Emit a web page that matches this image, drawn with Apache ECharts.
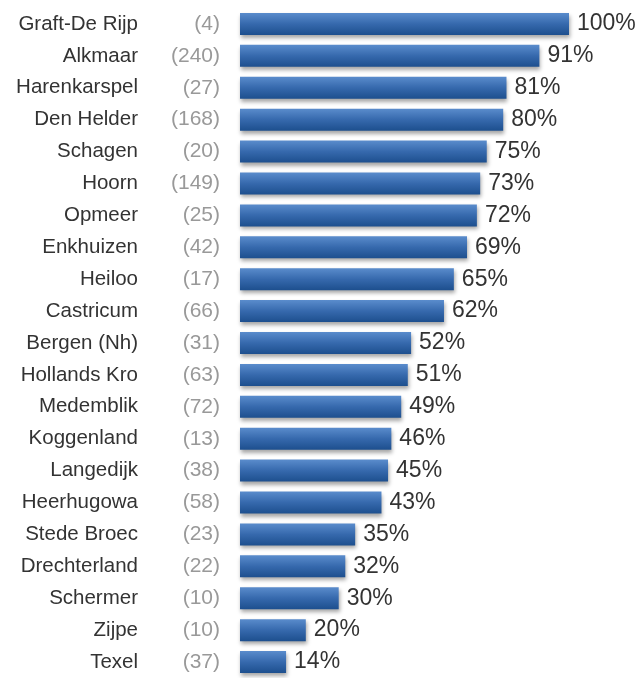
<!DOCTYPE html>
<html>
<head>
<meta charset="utf-8">
<script src="https://cdn.jsdelivr.net/npm/echarts@6/dist/echarts.min.js"></script>
<style>
  html, body { margin: 0; padding: 0; background: #fff; }
  #chart { width: 642px; height: 678px; }
</style>
</head>
<body>
<div id="chart"></div>
<script>
// gemeenten, aantal respondenten en percentage
const gemeenten = ['Graft-De Rijp', 'Alkmaar', 'Harenkarspel', 'Den Helder', 'Schagen', 'Hoorn', 'Opmeer',
  'Enkhuizen', 'Heiloo', 'Castricum', 'Bergen (Nh)', 'Hollands Kro', 'Medemblik', 'Koggenland',
  'Langedijk', 'Heerhugowa', 'Stede Broec', 'Drechterland', 'Schermer', 'Zijpe', 'Texel']
const aantallen = [4, 240, 27, 168, 20, 149, 25, 42, 17, 66, 31, 63, 72, 13, 38, 58, 23, 22, 10, 10, 37]
const percentages = [100, 91, 81, 80, 75, 73, 72, 69, 65, 62, 52, 51, 49, 46, 45, 43, 35, 32, 30, 20, 14]

const chart = echarts.init(document.getElementById('chart'))

var option = {
  animation: false,
  grid: {
    left: 240,
    right: 73,
    top: 8,
    height: 674,
  },
  xAxis: {
    type: 'value',
    min: 0,
    max: 100,
    show: false,
  },
  yAxis: {
    type: 'category',
    inverse: true,
    data: gemeenten,
    axisLine: { show: false },
    axisTick: { show: false },
    axisLabel: {
      margin: 20,
      formatter(val, idx) {
        return '{n|' + val + '}{c|(' + aantallen[idx] + ')}'
      },
      rich: {
        n: {
          color: '#333',
          fontSize: 20.5,
          fontFamily: 'Liberation Sans, Arial, sans-serif',
        },
        c: {
          color: '#999',
          fontSize: 21,
          width: 82,
          align: 'right',
          fontFamily: 'Liberation Sans, Arial, sans-serif',
        },
      },
    },
  },
  series: [
    {
      type: 'bar',
      data: percentages,
      barWidth: 22,
      itemStyle: {
        color: new echarts.graphic.LinearGradient(0, 0, 0, 1, [
          { offset: 0, color: '#5a8ccc' },
          { offset: 0.5, color: '#3669ad' },
          { offset: 1, color: '#1d4f8e' },
        ]),
        shadowColor: 'rgba(0,0,0,0.35)',
        shadowBlur: 4,
        shadowOffsetX: 1,
        shadowOffsetY: 3,
      },
      label: {
        show: true,
        position: 'right',
        distance: 8,
        formatter: '{c}%',
        color: '#333',
        fontSize: 23,
        fontFamily: 'Liberation Sans, Arial, sans-serif',
      },
    },
  ],
}
chart.setOption(option)
</script>
</body>
</html>
